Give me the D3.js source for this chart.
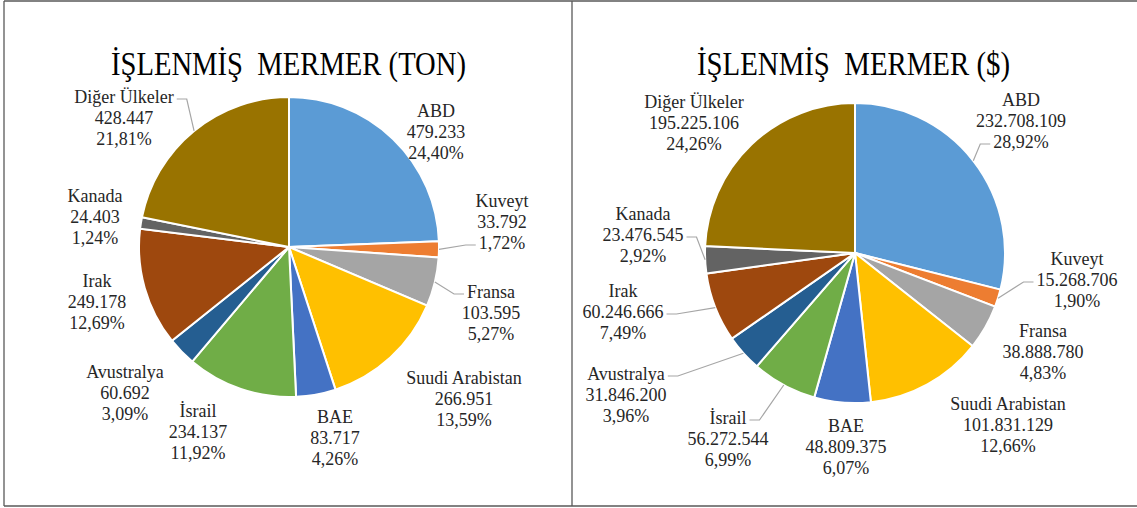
<!DOCTYPE html>
<meta charset='utf-8'>
<script src="https://cdn.jsdelivr.net/npm/d3@7"></script>
<style>
	body { margin: 0; background: #fff; }
	.frame { stroke: #595959; stroke-width: 1.3px; }
	.title { font-size: 34px; fill: #000; }
	.lbl { font-size: 18px; fill: #262626; }
	.slice { stroke: #fff; stroke-width: 2px; }
	.leader { fill: none; stroke: #a6a6a6; stroke-width: 1.2px; }
</style>
<div id="chart"></div>
<script>
	// data
	var countries = ["ABD", "Kuveyt", "Fransa", "Suudi Arabistan", "BAE", "İsrail",
					"Avustralya", "Irak", "Kanada", "Diğer Ülkeler"];
	var tonValues = [479233, 33792, 103595, 266951, 83717, 234137, 60692, 249178, 24403, 428447];
	var usdValues = [232708109, 15268706, 38888780, 101831129, 48809375, 56272544,
					31846200, 60246666, 23476545, 195225106];
	var titles = ["İŞLENMİŞ  MERMER (TON)", "İŞLENMİŞ  MERMER ($)"];
	var colors = ["#5b9bd5", "#ed7d31", "#a5a5a5", "#ffc000", "#4472c4", "#70ad47",
				"#255e91", "#9e480e", "#636363", "#997300"];

	// layout: label offsets from pie center (first line baseline), leaders
	var tonLabelPos = [[147, -130], [213, -40], [202, 51], [175, 137], [46, 176],
					[-91, 170], [-164, 131], [-192, 40], [-194, -45], [-165, -144]];
	var tonLeaders = {1: ["left", 2], 2: ["left", 0], 9: ["right", 0]};
	var usdLabelPos = [[166, -147], [222, 12], [188, 84], [153, 157], [-9, 179],
					[-127, 171], [-229, 127], [-232, 44], [-212, -33], [-161, -145]];
	var usdLeaders = {0: ["left", 2], 1: ["left", 1], 5: ["right", 0], 6: ["right", 0],
					7: ["right", 1], 8: ["right", 1]};

	var width = 1137, height = 508, radius = 150, lineH = 21;

	var tr = d3.formatLocale({decimal: ",", thousands: ".", grouping: [3], currency: ["", ""]});
	var fmtNum = tr.format(",d");

	var svg = d3.select("#chart").append("svg")
		.attr("width", width)
		.attr("height", height);

	// frame
	svg.append("line").attr("class", "frame").attr("x1", 4).attr("y1", 1).attr("x2", width).attr("y2", 1);
	svg.append("line").attr("class", "frame").attr("x1", 4).attr("y1", 506).attr("x2", width).attr("y2", 506);
	svg.append("line").attr("class", "frame").attr("x1", 4).attr("y1", 1).attr("x2", 4).attr("y2", 506);
	svg.append("line").attr("class", "frame").attr("x1", 572).attr("y1", 1).attr("x2", 572).attr("y2", 506);

	drawPie(tonValues, titles[0], [289, 247], [111, 466], tonLabelPos, tonLeaders);
	drawPie(usdValues, titles[1], [855, 253], [697, 1010], usdLabelPos, usdLeaders);

	function drawPie(values, title, center, titleSpan, labelPos, leaders) {
		var total = d3.sum(values);
		var g = svg.append("g");

		g.append("text")
			.attr("class", "title")
			.attr("x", titleSpan[0])
			.attr("y", 75)
			.attr("textLength", titleSpan[1] - titleSpan[0])
			.attr("lengthAdjust", "spacingAndGlyphs")
			.style("white-space", "pre")
			.text(title);

		var pie = d3.pie().sort(null).value(function(d) { return d; });
		var arc = d3.arc().innerRadius(0).outerRadius(radius);
		var arcs = pie(values);

		var pg = g.append("g").attr("transform", "translate(" + center[0] + "," + center[1] + ")");
		pg.selectAll("path.slice")
			.data(arcs)
			.enter()
			.append("path")
			.attr("class", "slice")
			.attr("d", arc)
			.attr("fill", function(d, i) { return colors[i]; });

		arcs.forEach(function(a, i) {
			var pos = labelPos[i];
			var t = pg.append("text")
				.attr("class", "lbl")
				.attr("text-anchor", "middle")
				.attr("x", pos[0])
				.attr("y", pos[1]);
			var lines = [countries[i], fmtNum(values[i]),
						(values[i] / total * 100).toFixed(2).replace(".", ",") + "%"];
			var spans = lines.map(function(s, k) {
				return t.append("tspan").attr("x", pos[0]).attr("y", pos[1] + k * lineH).text(s);
			});

			// leader line: slice edge -> elbow -> side of the label line
			if (leaders[i]) {
				var side = leaders[i][0], ln = leaders[i][1];
				var bb = spans[ln].node().getBBox();
				var mid = (a.startAngle + a.endAngle) / 2;
				var sx = radius * Math.sin(mid), sy = -radius * Math.cos(mid);
				var ey = pos[1] + ln * lineH - 4;
				var ex = side == "left" ? bb.x - 3 : bb.x + bb.width + 3;
				var kx = side == "left" ? ex - 10 : ex + 10;
				pg.append("path")
					.attr("class", "leader")
					.attr("d", "M" + sx + "," + sy + "L" + kx + "," + ey + "L" + ex + "," + ey);
			}
		});
	}
</script>
